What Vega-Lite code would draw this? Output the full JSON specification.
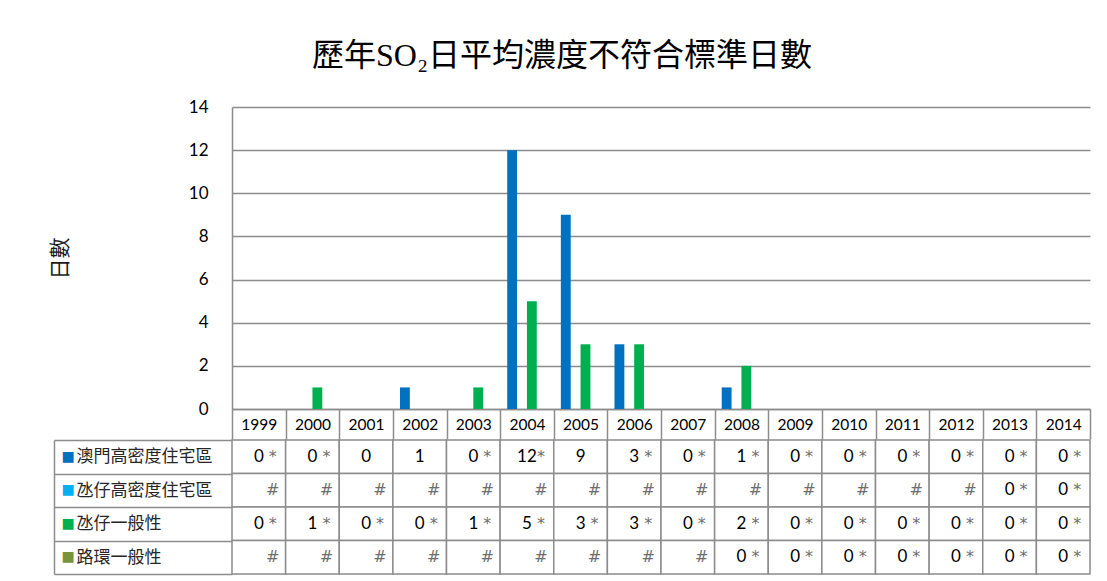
{
  "$schema": "https://vega.github.io/schema/vega-lite/v6.json",
  "padding": {"left": 49, "top": 40, "right": 10, "bottom": 5},
  "background": "white",
  "title": {
    "text": "歷年SO₂日平均濃度不符合標準日數",
    "font": "Liberation Serif, Noto Sans CJK TC",
    "fontSize": 32,
    "fontWeight": "normal",
    "color": "#000000",
    "anchor": "middle",
    "offset": 25,
    "dx": -8
  },
  "datasets": {
    "d": [
      {"year": 1999, "series": "澳門高密度住宅區", "value": 0, "note": "*"},
      {"year": 2000, "series": "澳門高密度住宅區", "value": 0, "note": "*"},
      {"year": 2001, "series": "澳門高密度住宅區", "value": 0, "note": ""},
      {"year": 2002, "series": "澳門高密度住宅區", "value": 1, "note": ""},
      {"year": 2003, "series": "澳門高密度住宅區", "value": 0, "note": "*"},
      {"year": 2004, "series": "澳門高密度住宅區", "value": 12, "note": "*"},
      {"year": 2005, "series": "澳門高密度住宅區", "value": 9, "note": ""},
      {"year": 2006, "series": "澳門高密度住宅區", "value": 3, "note": "*"},
      {"year": 2007, "series": "澳門高密度住宅區", "value": 0, "note": "*"},
      {"year": 2008, "series": "澳門高密度住宅區", "value": 1, "note": "*"},
      {"year": 2009, "series": "澳門高密度住宅區", "value": 0, "note": "*"},
      {"year": 2010, "series": "澳門高密度住宅區", "value": 0, "note": "*"},
      {"year": 2011, "series": "澳門高密度住宅區", "value": 0, "note": "*"},
      {"year": 2012, "series": "澳門高密度住宅區", "value": 0, "note": "*"},
      {"year": 2013, "series": "澳門高密度住宅區", "value": 0, "note": "*"},
      {"year": 2014, "series": "澳門高密度住宅區", "value": 0, "note": "*"},
      {"year": 1999, "series": "氹仔高密度住宅區", "value": null, "note": "#"},
      {"year": 2000, "series": "氹仔高密度住宅區", "value": null, "note": "#"},
      {"year": 2001, "series": "氹仔高密度住宅區", "value": null, "note": "#"},
      {"year": 2002, "series": "氹仔高密度住宅區", "value": null, "note": "#"},
      {"year": 2003, "series": "氹仔高密度住宅區", "value": null, "note": "#"},
      {"year": 2004, "series": "氹仔高密度住宅區", "value": null, "note": "#"},
      {"year": 2005, "series": "氹仔高密度住宅區", "value": null, "note": "#"},
      {"year": 2006, "series": "氹仔高密度住宅區", "value": null, "note": "#"},
      {"year": 2007, "series": "氹仔高密度住宅區", "value": null, "note": "#"},
      {"year": 2008, "series": "氹仔高密度住宅區", "value": null, "note": "#"},
      {"year": 2009, "series": "氹仔高密度住宅區", "value": null, "note": "#"},
      {"year": 2010, "series": "氹仔高密度住宅區", "value": null, "note": "#"},
      {"year": 2011, "series": "氹仔高密度住宅區", "value": null, "note": "#"},
      {"year": 2012, "series": "氹仔高密度住宅區", "value": null, "note": "#"},
      {"year": 2013, "series": "氹仔高密度住宅區", "value": 0, "note": "*"},
      {"year": 2014, "series": "氹仔高密度住宅區", "value": 0, "note": "*"},
      {"year": 1999, "series": "氹仔一般性", "value": 0, "note": "*"},
      {"year": 2000, "series": "氹仔一般性", "value": 1, "note": "*"},
      {"year": 2001, "series": "氹仔一般性", "value": 0, "note": "*"},
      {"year": 2002, "series": "氹仔一般性", "value": 0, "note": "*"},
      {"year": 2003, "series": "氹仔一般性", "value": 1, "note": "*"},
      {"year": 2004, "series": "氹仔一般性", "value": 5, "note": "*"},
      {"year": 2005, "series": "氹仔一般性", "value": 3, "note": "*"},
      {"year": 2006, "series": "氹仔一般性", "value": 3, "note": "*"},
      {"year": 2007, "series": "氹仔一般性", "value": 0, "note": "*"},
      {"year": 2008, "series": "氹仔一般性", "value": 2, "note": "*"},
      {"year": 2009, "series": "氹仔一般性", "value": 0, "note": "*"},
      {"year": 2010, "series": "氹仔一般性", "value": 0, "note": "*"},
      {"year": 2011, "series": "氹仔一般性", "value": 0, "note": "*"},
      {"year": 2012, "series": "氹仔一般性", "value": 0, "note": "*"},
      {"year": 2013, "series": "氹仔一般性", "value": 0, "note": "*"},
      {"year": 2014, "series": "氹仔一般性", "value": 0, "note": "*"},
      {"year": 1999, "series": "路環一般性", "value": null, "note": "#"},
      {"year": 2000, "series": "路環一般性", "value": null, "note": "#"},
      {"year": 2001, "series": "路環一般性", "value": null, "note": "#"},
      {"year": 2002, "series": "路環一般性", "value": null, "note": "#"},
      {"year": 2003, "series": "路環一般性", "value": null, "note": "#"},
      {"year": 2004, "series": "路環一般性", "value": null, "note": "#"},
      {"year": 2005, "series": "路環一般性", "value": null, "note": "#"},
      {"year": 2006, "series": "路環一般性", "value": null, "note": "#"},
      {"year": 2007, "series": "路環一般性", "value": null, "note": "#"},
      {"year": 2008, "series": "路環一般性", "value": 0, "note": "*"},
      {"year": 2009, "series": "路環一般性", "value": 0, "note": "*"},
      {"year": 2010, "series": "路環一般性", "value": 0, "note": "*"},
      {"year": 2011, "series": "路環一般性", "value": 0, "note": "*"},
      {"year": 2012, "series": "路環一般性", "value": 0, "note": "*"},
      {"year": 2013, "series": "路環一般性", "value": 0, "note": "*"},
      {"year": 2014, "series": "路環一般性", "value": 0, "note": "*"}
    ]
  },
  "spacing": -10,
  "vconcat": [
    {
      "width": 858,
      "height": 302,
      "data": {"name": "d"},
      "transform": [{"filter": "isValid(datum.value) && datum.value > 0"}],
      "mark": {"type": "bar"},
      "encoding": {
        "x": {
          "field": "year", "type": "ordinal",
          "scale": {"domain": [1999,2000,2001,2002,2003,2004,2005,2006,2007,2008,2009,2010,2011,2012,2013,2014], "paddingInner": 0, "paddingOuter": 0},
          "axis": {
            "title": null, "labelAngle": 0, "tickBand": "extent", "tickExtra": true,
            "tickSize": 30, "tickColor": "#8c8c8c", "tickWidth": 1.5,
            "domainColor": "#8c8c8c", "domainWidth": 1.5,
            "minExtent": 30, "maxExtent": 30,
            "labelPadding": -22, "labelFont": "Lato", "labelFontSize": 15.5, "labelColor": "#000000"
          }
        },
        "xOffset": {
          "field": "series",
          "scale": {"domain": ["澳門高密度住宅區", "氹仔高密度住宅區", "氹仔一般性", "路環一般性"], "paddingInner": 0, "paddingOuter": 0.72}
        },
        "y": {
          "field": "value", "type": "quantitative",
          "scale": {"domain": [0, 14], "nice": false},
          "axis": {
            "title": "日數", "titleFont": "Noto Sans CJK TC", "titleFontSize": 21, "titleFontWeight": "normal", "titleColor": "#1a1a1a",
            "titlePadding": 118,
            "values": [0, 2, 4, 6, 8, 10, 12, 14],
            "ticks": false, "labelPadding": 24, "labelFont": "Lato", "labelFontSize": 17, "labelColor": "#000000",
            "domainColor": "#8c8c8c", "domainWidth": 1.5,
            "grid": true, "gridColor": "#8c8c8c", "gridWidth": 1.5
          }
        },
        "color": {
          "field": "series", "type": "nominal",
          "scale": {"domain": ["澳門高密度住宅區", "氹仔高密度住宅區", "氹仔一般性", "路環一般性"], "range": ["#0070C0", "#00B0F0", "#00B050", "#77933C"]},
          "legend": null
        }
      }
    },
    {
      "width": 858,
      "height": 134,
      "data": {"name": "d"},
      "encoding": {
        "x": {
          "field": "year", "type": "ordinal",
          "scale": {"domain": [1999,2000,2001,2002,2003,2004,2005,2006,2007,2008,2009,2010,2011,2012,2013,2014], "paddingInner": 0, "paddingOuter": 0},
          "axis": null
        },
        "y": {
          "field": "series", "type": "nominal",
          "scale": {"domain": ["澳門高密度住宅區", "氹仔高密度住宅區", "氹仔一般性", "路環一般性"], "paddingInner": 0, "paddingOuter": 0},
          "axis": null
        }
      },
      "layer": [
        {
          "mark": {"type": "rect", "fill": "white", "stroke": "#8c8c8c", "strokeWidth": 1.5},
          "encoding": {
            "y": {
              "field": "series", "type": "nominal",
              "scale": {"domain": ["澳門高密度住宅區", "氹仔高密度住宅區", "氹仔一般性", "路環一般性"], "paddingInner": 0, "paddingOuter": 0},
              "axis": {
                "title": null, "orient": "left", "domain": false,
                "tickBand": "extent", "tickExtra": true, "tickSize": 178, "tickColor": "#8c8c8c", "tickWidth": 1.5,
                "labelAlign": "left", "labelPadding": -22, "labelFont": "Noto Sans CJK TC", "labelFontSize": 17, "labelColor": "#262626", "labelLimit": 300
              }
            }
          }
        },
        {
          "transform": [{"filter": "isValid(datum.value)"}],
          "mark": {"type": "text", "font": "Lato", "fontSize": 17, "color": "#000000", "align": "center", "baseline": "middle"},
          "encoding": {
            "text": {"field": "value", "type": "quantitative", "format": "d"},
            "y": {
              "field": "series", "type": "nominal",
              "scale": {"domain": ["澳門高密度住宅區", "氹仔高密度住宅區", "氹仔一般性", "路環一般性"], "paddingInner": 0, "paddingOuter": 0},
              "axis": {
                "title": null, "orient": "left", "offset": 178, "domain": true, "domainColor": "#8c8c8c", "domainWidth": 1.5,
                "ticks": false, "labelExpr": "'■'", "labelAlign": "left", "labelPadding": -7,
                "labelFont": "DejaVu Sans", "labelFontSize": 14,
                "labelColor": {
                  "condition": [
                    {"test": "datum.value === '澳門高密度住宅區'", "value": "#0070C0"},
                    {"test": "datum.value === '氹仔高密度住宅區'", "value": "#00B0F0"},
                    {"test": "datum.value === '氹仔一般性'", "value": "#00B050"}
                  ],
                  "value": "#77933C"
                }
              }
            }
          }
        },
        {
          "mark": {"type": "text", "font": "DejaVu Sans", "fontSize": 16, "color": "#6e6e6e", "align": "center", "baseline": "middle", "dx": 14},
          "encoding": {"text": {"field": "note", "type": "nominal"}}
        }
      ],
      "resolve": {"axis": {"y": "independent"}}
    }
  ],
  "config": {
    "view": {"stroke": null}
  }
}
